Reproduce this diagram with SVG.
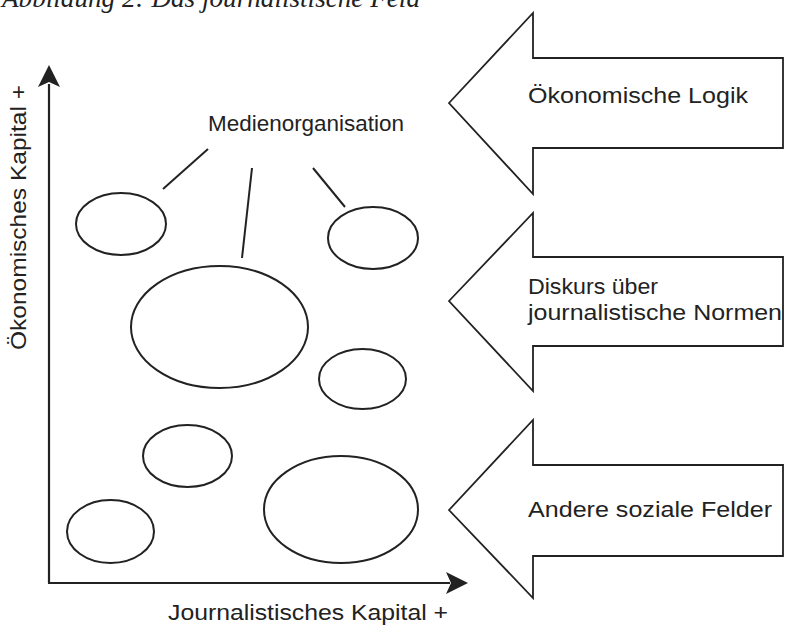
<svg xmlns="http://www.w3.org/2000/svg" width="785" height="625" viewBox="0 0 785 625">
<style>
.bg{fill:#fff}
.org{fill:none;stroke:#222;stroke-width:2}
.big{fill:#fff;stroke:#222;stroke-width:1.8;stroke-linejoin:miter}
.ax{stroke:#222;stroke-width:2.2;fill:none}
.head{fill:#222;stroke:none}
.con line{stroke:#222;stroke-width:2}
.lbl{font-family:"Liberation Sans",Arial,sans-serif;font-size:22px;fill:#222}
.title{font-family:"Liberation Serif","Times New Roman",serif;font-style:italic;font-size:27px;fill:#222}
</style>
<rect class="bg" x="0" y="0" width="785" height="625"/>
<text class="title" x="2" y="7" textLength="418" lengthAdjust="spacingAndGlyphs">Abbildung 2: Das journalistische Feld</text>

<g id="axes">
  <line class="ax" x1="49" y1="84" x2="49" y2="583"/>
  <line class="ax" x1="48" y1="583" x2="450" y2="583"/>
  <polygon class="head" points="49,65 38,87 49,82 60,87"/>
  <polygon class="head" points="468,583 446,572 451,583 446,594"/>
  <text class="lbl" transform="translate(26,350) rotate(-90)" textLength="265" lengthAdjust="spacingAndGlyphs">Ökonomisches Kapital +</text>
  <text class="lbl" x="168" y="620" textLength="280" lengthAdjust="spacingAndGlyphs">Journalistisches Kapital +</text>
</g>

<g id="label-medienorganisation">
  <text class="lbl" x="208" y="131" textLength="196" lengthAdjust="spacingAndGlyphs">Medienorganisation</text>
</g>

<g id="connectors" class="con">
  <line x1="208" y1="149" x2="163" y2="189"/>
  <line x1="252" y1="168" x2="242" y2="258"/>
  <line x1="313" y1="168" x2="345" y2="207"/>
</g>

<g id="org1"><ellipse class="org" cx="121" cy="224" rx="45" ry="31"/></g>
<g id="org2"><ellipse class="org" cx="373" cy="238" rx="45" ry="31"/></g>
<g id="org3"><ellipse class="org" cx="219.5" cy="327" rx="88.5" ry="61"/></g>
<g id="org4"><ellipse class="org" cx="362.5" cy="379" rx="43.5" ry="30"/></g>
<g id="org5"><ellipse class="org" cx="187.5" cy="456" rx="44.5" ry="31"/></g>
<g id="org6"><ellipse class="org" cx="110.5" cy="531.5" rx="43.5" ry="31.5"/></g>
<g id="org7"><ellipse class="org" cx="341" cy="509.5" rx="77" ry="53.5"/></g>

<g id="arrow-oekonomische-logik">
  <polygon class="big" points="449,103 533,13 533,58 783,58 783,148 533,148 533,194"/>
  <text class="lbl" x="528" y="103" textLength="220" lengthAdjust="spacingAndGlyphs">Ökonomische Logik</text>
</g>
<g id="arrow-diskurs">
  <polygon class="big" points="449,301 533,213 533,257 783,257 783,346 533,346 533,391"/>
  <text class="lbl" x="528" y="294" textLength="130" lengthAdjust="spacingAndGlyphs">Diskurs über</text>
  <text class="lbl" x="528" y="320" textLength="254" lengthAdjust="spacingAndGlyphs">journalistische Normen</text>
</g>
<g id="arrow-andere-felder">
  <polygon class="big" points="449,510 533,420 533,465 783,465 783,556 533,556 533,598"/>
  <text class="lbl" x="528" y="517" textLength="244" lengthAdjust="spacingAndGlyphs">Andere soziale Felder</text>
</g>
</svg>
